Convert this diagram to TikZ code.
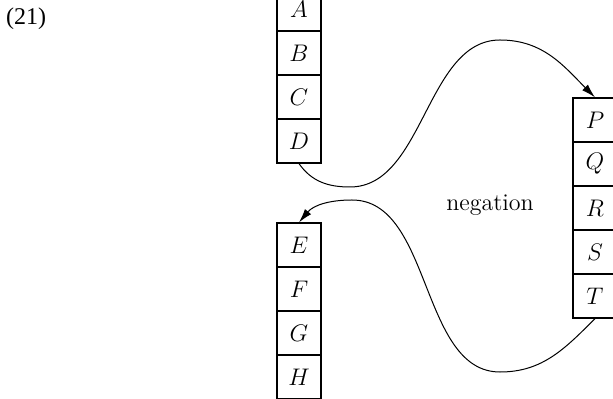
\documentclass[tikz,border=0pt]{standalone}
\usepackage{fontspec}
\newfontfamily\timesfont{Liberation Serif}
\usetikzlibrary{arrows.meta,positioning}

\begin{document}
\begin{tikzpicture}[x=0.5pt,y=-0.5pt,
  cell/.style={draw,minimum width=22pt,minimum height=22pt,inner sep=0pt,line width=0.6pt,font=\large},
  fleche/.style={-{Latex[length=7pt,width=4pt]},line width=0.5pt}]
  \clip (0,0) rectangle (613,399);
  \node[font=\timesfont\large] (num) at (26,19) {(21)};
  \foreach \l [count=\i] in {A,B,C,D}{
    \node[cell] (c\l) at (299,{9+44*(\i-1)}) {$\l$};
  }
  \foreach \l [count=\i] in {E,F,G,H}{
    \node[cell] (c\l) at (299,{245+44*(\i-1)}) {$\l$};
  }
  \foreach \l [count=\i] in {P,Q,R,S,T}{
    \node[cell] (c\l) at (595,{120+44*(\i-1)}) {$\l$};
  }
  \node[font=\large] (neg) at (490,205) {negation};
  \draw[fleche] (cD.south) to[out=-55,in=180] (350,187) to[out=0,in=180,looseness=0.9] (500,40) to[out=0,in=135] (cP.north);
  \draw[fleche] (cT.south) to[out=-135,in=0] (500,372) to[out=180,in=0,looseness=0.9] (352,200) to[out=180,in=50] (cE.north);
\end{tikzpicture}
\end{document}
